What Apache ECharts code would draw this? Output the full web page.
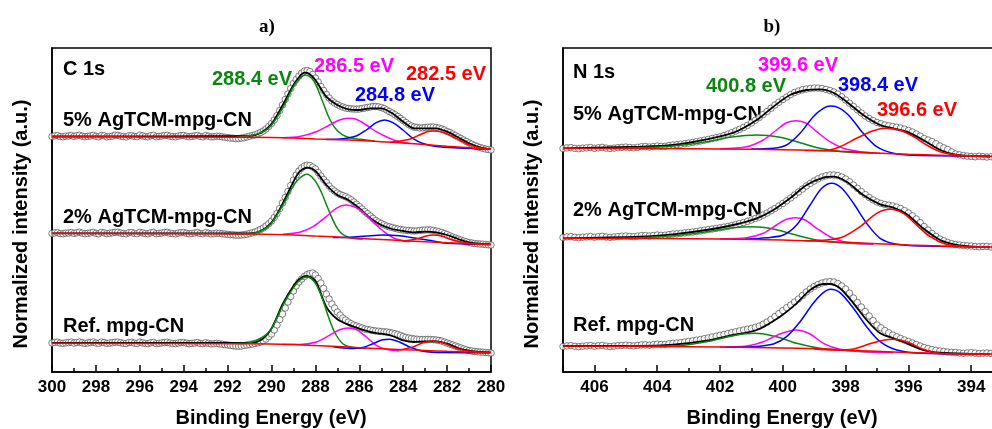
<!DOCTYPE html>
<html>
<head>
<meta charset="utf-8">
<script src="https://cdn.jsdelivr.net/npm/echarts@6/dist/echarts.min.js"></script>
<style>
  html, body { margin: 0; padding: 0; background: #fff; }
  #chart { width: 992px; height: 429px; }
</style>
</head>
<body>
<div id="chart"></div>
<script>
// XPS spectra, panel a) C 1s and panel b) N 1s
// y values are in plot units (0..324), each spectrum already carries its stacking offset

// binding energies of the measured points, one row per eV
const energyA = [
  300, 299.875, 299.75, 299.625, 299.5, 299.375, 299.25, 299.125,
  299, 298.875, 298.75, 298.625, 298.5, 298.375, 298.25, 298.125,
  298, 297.875, 297.75, 297.625, 297.5, 297.375, 297.25, 297.125,
  297, 296.875, 296.75, 296.625, 296.5, 296.375, 296.25, 296.125,
  296, 295.875, 295.75, 295.625, 295.5, 295.375, 295.25, 295.125,
  295, 294.875, 294.75, 294.625, 294.5, 294.375, 294.25, 294.125,
  294, 293.875, 293.75, 293.625, 293.5, 293.375, 293.25, 293.125,
  293, 292.875, 292.75, 292.625, 292.5, 292.375, 292.25, 292.125,
  292, 291.875, 291.75, 291.625, 291.5, 291.375, 291.25, 291.125,
  291, 290.875, 290.75, 290.625, 290.5, 290.375, 290.25, 290.125,
  290, 289.875, 289.75, 289.625, 289.5, 289.375, 289.25, 289.125,
  289, 288.875, 288.75, 288.625, 288.5, 288.375, 288.25, 288.125,
  288, 287.875, 287.75, 287.625, 287.5, 287.375, 287.25, 287.125,
  287, 286.875, 286.75, 286.625, 286.5, 286.375, 286.25, 286.125,
  286, 285.875, 285.75, 285.625, 285.5, 285.375, 285.25, 285.125,
  285, 284.875, 284.75, 284.625, 284.5, 284.375, 284.25, 284.125,
  284, 283.875, 283.75, 283.625, 283.5, 283.375, 283.25, 283.125,
  283, 282.875, 282.75, 282.625, 282.5, 282.375, 282.25, 282.125,
  282, 281.875, 281.75, 281.625, 281.5, 281.375, 281.25, 281.125,
  281, 280.875, 280.75, 280.625, 280.5, 280.375, 280.25, 280.125,
  280
];

const energyB = [
  407, 406.875, 406.75, 406.625, 406.5, 406.375, 406.25, 406.125,
  406, 405.875, 405.75, 405.625, 405.5, 405.375, 405.25, 405.125,
  405, 404.875, 404.75, 404.625, 404.5, 404.375, 404.25, 404.125,
  404, 403.875, 403.75, 403.625, 403.5, 403.375, 403.25, 403.125,
  403, 402.875, 402.75, 402.625, 402.5, 402.375, 402.25, 402.125,
  402, 401.875, 401.75, 401.625, 401.5, 401.375, 401.25, 401.125,
  401, 400.875, 400.75, 400.625, 400.5, 400.375, 400.25, 400.125,
  400, 399.875, 399.75, 399.625, 399.5, 399.375, 399.25, 399.125,
  399, 398.875, 398.75, 398.625, 398.5, 398.375, 398.25, 398.125,
  398, 397.875, 397.75, 397.625, 397.5, 397.375, 397.25, 397.125,
  397, 396.875, 396.75, 396.625, 396.5, 396.375, 396.25, 396.125,
  396, 395.875, 395.75, 395.625, 395.5, 395.375, 395.25, 395.125,
  395, 394.875, 394.75, 394.625, 394.5, 394.375, 394.25, 394.125,
  394, 393.875, 393.75, 393.625, 393.5, 393.375, 393.25, 393.125
];

// ---- panel a: measured points ----
const rawA5 = [
  235.5, 236.2, 236.4, 235.4, 235.2, 235.9, 236, 236.5,
  235.6, 236.3, 236.8, 235.8, 235.3, 235.6, 236.1, 236.6,
  235.7, 235.2, 236.5, 236.2, 235.1, 235.5, 235.9, 236.8,
  236.6, 235.8, 235.4, 235.1, 236.2, 236.4, 235.6, 235.3,
  236.9, 236.1, 235.5, 235.2, 236.3, 236.7, 235.2, 235.6,
  236, 236.5, 236.7, 235.8, 235.4, 235.2, 235.9, 236.4,
  236.5, 235.7, 235.3, 235.6, 236.1, 236.6, 235.6, 235.2,
  236.4, 235.8, 235.1, 235.3, 235.8, 235.6, 235.2, 234.8,
  234.4, 234, 233.8, 233.4, 233.5, 233.9, 234.3, 235,
  235.8, 236.5, 237.2, 238.2, 239.5, 241, 243, 245.5,
  248.5, 252, 256.5, 261.5, 267, 272.5, 278, 283.5,
  288.5, 292.5, 296, 299, 301, 301.5, 300.5, 297.5,
  294, 290, 285.5, 281.5, 277.5, 274, 271, 269,
  267.5, 266, 265, 264, 263.5, 263.2, 263, 262.8,
  263, 263.5, 264, 264.5, 265, 265.5, 265.5, 265.2,
  264.5, 263.5, 262, 260.5, 259, 257.3, 255.5, 253.5,
  251.5, 249.5, 247.5, 246, 245, 244.5, 244, 244.2,
  244.5, 244.8, 245, 245, 244.5, 244, 243, 242,
  240.5, 239.5, 238, 236.5, 235, 233.5, 232, 230.5,
  229, 227.8, 226.5, 225.5, 224.5, 223.7, 223, 222.5,
  222
];
const rawA2 = [
  138.5, 139.1, 139.3, 138.4, 138.2, 138.8, 139, 139.5,
  138.6, 139.2, 139.8, 138.9, 138.3, 138.6, 139.1, 139.6,
  138.7, 138.2, 139.6, 139.1, 138.4, 138.7, 139.2, 139.7,
  139.8, 139, 138.5, 138.2, 139.3, 139.5, 138.6, 138.3,
  139.7, 139.1, 138.4, 138.2, 139.2, 139.6, 138.3, 138.6,
  139, 139.4, 139.6, 138.8, 138.4, 138.2, 138.9, 139.3,
  139.5, 138.7, 138.2, 138.5, 139, 139.4, 138.5, 138.2,
  139.3, 138.7, 138.1, 138.3, 138.8, 138.6, 138.2, 137.9,
  137.6, 137.3, 137.2, 136.9, 136.8, 137, 137.3, 137.8,
  138.5, 139.2, 140, 141.2, 142.5, 144, 146, 148.3,
  151, 154.5, 158.5, 163.5, 169, 174.5, 180.5, 186.5,
  192, 197, 201, 204, 206, 206.8, 206.5, 205,
  203, 199.5, 196, 192.5, 189.5, 186, 183, 181,
  179, 177.5, 176.5, 175.3, 174, 172.2, 170, 167.8,
  165.5, 163, 160.5, 158.3, 156, 153.6, 151.5, 150,
  148.5, 147.2, 146, 145.2, 144.5, 143.7, 143, 142.5,
  142, 141.7, 141.5, 141.2, 141, 141.2, 141.5, 141.8,
  142, 142.2, 142, 141.6, 141, 140.3, 139.5, 138.5,
  137.5, 136.2, 135, 134, 133, 132, 131, 130.2,
  129.5, 129, 128.5, 128.2, 128, 127.8, 127.5, 127.2,
  127
];
const rawARef = [
  29, 29.6, 29.8, 28.9, 28.6, 29.1, 29.4, 29.9,
  28.9, 29.5, 30, 29.2, 28.7, 29, 29.5, 30,
  29, 28.6, 29.9, 29.4, 28.6, 28.9, 29.3, 29.8,
  29.9, 29.2, 28.7, 28.5, 29.5, 29.7, 28.8, 28.5,
  29.8, 29.1, 28.5, 28.3, 29.3, 29.6, 28.4, 28.7,
  29.1, 29.5, 29.7, 29, 28.5, 28.3, 29, 29.4,
  29.5, 28.8, 28.3, 28.6, 29, 29.5, 28.5, 28.3,
  29.2, 28.7, 28.1, 28.3, 28.6, 28.2, 27.8, 27.3,
  27, 26.6, 26.2, 25.9, 25.8, 26, 26.5, 27,
  27.5, 28, 28.5, 29.2, 30, 31.3, 33, 35.3,
  38, 42, 47, 52.5, 58, 64, 70, 75.5,
  81, 86, 90, 93, 95.5, 97.5, 98.5, 99,
  97, 93.5, 89, 83.5, 78, 73, 68, 64,
  60, 57, 54, 52, 50, 48.3, 47, 46,
  45, 44, 43, 42.5, 42, 41.5, 41, 40.8,
  40.5, 40.2, 40, 39.5, 39, 38.3, 37.5, 36.5,
  35.5, 34.7, 34, 33.5, 33, 32.8, 32.5, 32.5,
  32.5, 32.6, 32.5, 32.3, 32, 31.6, 31, 30,
  29, 28, 27, 26, 25, 24, 23, 22.2,
  21.5, 21, 20.5, 20.2, 20, 19.8, 19.5, 19.2,
  19
];

// ---- panel a: fitted curves [eV, y] ----
const envA5 = [[300, 235.5], [291, 236], [290.5, 239], [290, 248], [289.5, 266.5], [289, 287], [288.72, 295.5], [288.5, 299.3], [288.27, 298], [288, 292], [287.5, 275.3], [287, 267], [286.5, 262.7], [286, 262], [285.5, 263.7], [285, 263.7], [284.5, 258.7], [284, 250.3], [283.5, 243.7], [283, 243.7], [282.5, 243.7], [282, 240.3], [281.5, 234.7], [281, 228.7], [280.5, 224.7], [280, 222.7]];
const greenA5 = [[291.6, 234.8], [290.98, 236.2], [290.37, 240.3], [289.99, 247], [289.46, 265.3], [289, 285.3], [288.7, 293.7], [288.47, 297], [288.17, 293.7], [287.94, 285.3], [287.64, 268.7], [287.33, 252], [287, 241.3], [286.58, 235.3], [285.97, 232.7], [285.3, 231]];
const pinkA5 = [[289.5, 234.3], [288.72, 235.5], [287.96, 240.3], [287.36, 247], [286.9, 252], [286.52, 253.7], [286.14, 252.7], [285.68, 247], [285.23, 240.3], [284.62, 233.7], [284.17, 230.3], [283.71, 228.5]];
const blueA5 = [[287.5, 232.5], [286.75, 233.2], [286.14, 236], [285.68, 242], [285.23, 249.3], [284.85, 252], [284.47, 249.3], [284.01, 242], [283.56, 233.7], [283.1, 228.5], [282.5, 225.5], [281.5, 224], [280.07, 222.7]];
const redA5 = [[284.6, 229.6], [284.32, 230.5], [283.71, 232.7], [283.26, 237], [282.95, 240], [282.65, 241], [282.27, 240.3], [281.89, 237], [281.43, 232], [280.98, 227], [280.52, 224.3], [280.07, 222.7]];
const bgA5 = [[300, 235.5], [291, 234.7], [289, 234], [288, 233], [287, 232.3], [286, 231.5], [285, 230.3], [284, 229], [283, 227.5], [282, 225.7], [281, 224.2], [280, 222.7]];

const envA2 = [[300, 138.7], [291, 138.7], [290.5, 141], [290, 149.5], [289.5, 168], [289, 190.3], [288.72, 200.3], [288.34, 204.3], [288, 201], [287.5, 187], [287, 177], [286.5, 172], [286, 163.7], [285.5, 153.7], [285, 147], [284.5, 143], [284, 141], [283.5, 139.7], [283, 140.3], [282.5, 139.7], [282, 137], [281.5, 133], [281, 129.7], [280.5, 128.3], [280, 127.7]];
const greenA2 = [[291.6, 138.1], [291, 138.2], [290.39, 142], [290, 148.7], [289.48, 167], [289.03, 185.3], [288.72, 193.7], [288.39, 197.7], [288.04, 192], [287.74, 180.3], [287.43, 163.7], [287.13, 148.7], [286.82, 138.7], [286.44, 134.3], [285.84, 133]];
const pinkA2 = [[289.48, 137.7], [288.72, 139.7], [288.11, 145.3], [287.51, 155.3], [287.05, 163.7], [286.6, 167], [286.14, 164.3], [285.68, 157], [285.23, 147], [284.77, 138.7], [284.32, 133], [283.71, 130.2]];
const blueA2 = [[287.2, 134.5], [286.44, 134.8], [285.68, 136], [284.93, 137], [284.17, 136.3], [283.41, 133.7], [282.65, 131], [281.89, 128.7], [280.07, 127.6]];
const redA2 = [[284.01, 131], [283.41, 133], [282.95, 136], [282.65, 137], [282.27, 136], [281.89, 133], [281.28, 129.7], [280.67, 128], [280.07, 127.6]];
const bgA2 = [[300, 138.7], [291, 138], [289, 137], [288, 136], [287, 135], [286, 133.7], [285, 132.5], [284, 131.3], [283, 130.2], [282, 129.2], [281, 128.3], [280, 127.5]];

const envARef = [[300, 29], [291, 29.3], [290.5, 31.7], [290, 43.5], [289.5, 67.5], [289, 86], [288.72, 93], [288.42, 96], [288, 91], [287.5, 65], [287, 52.7], [286.5, 47.3], [286, 43.3], [285.5, 40], [285, 38.3], [284.5, 36], [284, 31.7], [283.5, 30], [283, 30.7], [282.5, 30.7], [282, 28.3], [281.5, 24], [281, 21.3], [280.5, 20], [280, 19.7]];
const greenARef = [[291.6, 28.4], [291, 29.3], [290.39, 35], [290, 43.3], [289.48, 66.7], [289.03, 83.3], [288.72, 91.7], [288.39, 95], [288.04, 90], [287.74, 76.7], [287.43, 56.7], [287.13, 40], [286.75, 28.3], [286.29, 24.5], [285.68, 23.5]];
const pinkARef = [[289.5, 27.6], [288.72, 27.5], [287.96, 30], [287.36, 36.7], [286.9, 42.3], [286.52, 44], [286.14, 42.3], [285.68, 35], [285.23, 26.7], [284.77, 22.7], [284.17, 21]];
const blueARef = [[287.2, 25.2], [286.44, 23.5], [285.84, 24.5], [285.38, 28.3], [284.93, 32.3], [284.62, 32.7], [284.17, 30], [283.71, 25], [283.1, 20.8], [282.19, 19.5], [280.07, 19.3]];
const redARef = [[284.17, 22], [283.56, 25], [283.1, 29.3], [282.65, 31], [282.19, 29.3], [281.74, 25], [281.28, 21.7], [280.67, 20], [280.07, 19.3]];
const bgARef = [[300, 28.7], [291, 28.3], [289, 27.5], [288, 26.5], [287, 25.5], [286, 24.3], [285, 23.3], [284, 22.3], [283, 21.5], [282, 20.7], [281, 20], [280, 19.3]];

// ---- panel b: measured points ----
const rawB5 = [
  223.5, 224.1, 224.4, 223.6, 223.3, 223.8, 224.1, 224.5,
  223.7, 224.2, 224.6, 223.9, 223.5, 223.9, 224.3, 224.6,
  224.9, 224.5, 224.2, 224.7, 225.3, 225.5, 225, 225.4,
  226, 225.6, 225.8, 226.5, 227, 227.3, 227.8, 228.3,
  228.9, 229.5, 230.2, 231, 231.8, 232.6, 233.5, 234.3,
  235.2, 236.4, 237.8, 239.3, 241, 242.7, 244.5, 246.7,
  249, 251.7, 254.5, 257.5, 260.5, 263.8, 267, 269.8,
  272.5, 275, 277.5, 279.5, 281, 282.2, 283, 283.6,
  284, 283.9, 283.5, 282.6, 281.5, 280, 278, 275.2,
  272, 268.8, 265.5, 262.2, 259, 256, 253.5, 251.4,
  249.5, 248.2, 247, 246.2, 245.5, 244.8, 244, 242.9,
  241.5, 240, 238, 235.9, 233.5, 232, 230.5, 228.3,
  226, 224.2, 222.5, 220.1, 218, 217.2, 216.5, 215.9,
  215.5, 215.2, 215.8, 215.4, 215, 215.3, 215.5, 215.1
];
const rawB2 = [
  134.5, 135.1, 135.4, 134.7, 134.3, 134.8, 135.1, 135.5,
  134.8, 135.3, 135.7, 135, 134.6, 135, 135.4, 135.8,
  136, 135.6, 135.3, 135.9, 136.4, 136.5, 136, 136.5,
  137, 136.7, 136.8, 137.4, 138, 138.2, 138.6, 139.1,
  139.6, 140, 140.5, 141.1, 141.8, 142.4, 143, 143.6,
  144.2, 144.9, 145.6, 146.5, 147.5, 148.5, 149.5, 150.7,
  152, 153.5, 155, 157, 159, 161.2, 163.5, 166,
  168.5, 171.2, 174, 177, 180, 183, 186, 188.6,
  191, 193.2, 195, 196.2, 197, 197, 196.5, 195,
  193, 190.2, 187, 183.7, 180.5, 177.4, 174.5, 172.1,
  170, 168.6, 167.5, 166.8, 166, 164.9, 163.5, 161.4,
  159, 156.2, 153, 149.4, 145.5, 142, 138.5, 135.6,
  133, 131.2, 129.5, 128.4, 127.5, 127, 126.5, 126.2,
  126, 125.5, 125.2, 125.6, 125.6, 125.1, 124.8, 125
];
const rawBRef = [
  25.5, 26.1, 26.4, 25.7, 25.3, 25.8, 26.2, 26.5,
  25.7, 26.2, 26.6, 25.9, 25.4, 25.9, 26.3, 26.6,
  26.8, 26.4, 26.1, 26.6, 27.1, 27.2, 26.8, 27.3,
  27.8, 27.5, 27.6, 28.2, 28.7, 29, 29.4, 30,
  30.6, 31.2, 31.8, 32.5, 33.3, 34.1, 35, 35.8,
  36.7, 37.6, 38.5, 39.4, 40.2, 41.1, 42, 42.8,
  43.6, 44.7, 46, 47.8, 50, 52.6, 55.5, 58.5,
  61.5, 64.3, 67, 70, 73, 76.5, 80, 83,
  85.5, 87.5, 89, 90, 90.5, 90, 88.5, 86,
  83, 78.8, 74, 69.5, 65, 60.5, 56, 51.5,
  47, 44.2, 41.5, 39.2, 37, 35.2, 33.5, 32,
  30.5, 29, 27.5, 26, 24.5, 23.5, 22.5, 21.7,
  21, 20.5, 20, 19.7, 19.5, 19.1, 18.8, 19,
  19.3, 18.9, 18.5, 18.8, 19, 18.6, 18.3, 18.7
];

// ---- panel b: fitted curves [eV, y] ----
const envB5 = [[407, 223.7], [404.55, 225.3], [403.49, 227], [402.43, 232.7], [401.57, 239.3], [400.83, 252], [400.3, 265.3], [399.77, 277], [399.24, 282], [398.82, 282.7], [398.39, 279.3], [397.97, 270.3], [397.44, 257], [396.9, 247], [396.48, 243.7], [396.05, 240.3], [395.53, 232], [394.99, 222], [394.46, 217], [393.93, 216], [393.4, 215.3]];
const greenB5 = [[405.5, 223.6], [404.55, 224.3], [403.49, 226], [402.43, 230.3], [401.68, 234.7], [400.83, 237], [400.09, 234.7], [399.45, 229.3], [398.82, 223.7], [398.18, 220.6], [397.12, 218.8]];
const pinkB5 = [[402, 223.2], [401.15, 225.3], [400.62, 232], [400.2, 242], [399.88, 249.3], [399.56, 251.3], [399.24, 248.7], [398.92, 240.3], [398.5, 230.3], [398.07, 223.7], [397.54, 220.3], [396.9, 218.7]];
const blueB5 = [[401, 223], [400.3, 223.7], [399.88, 227], [399.45, 238.7], [399.03, 255.3], [398.71, 263.7], [398.48, 266], [398.18, 263.7], [397.86, 255.3], [397.44, 238.7], [397.01, 225.3], [396.48, 218.7], [395.84, 216.7], [393.4, 216]];
const redB5 = [[399.3, 221.5], [398.6, 221.8], [398.18, 225.3], [397.65, 233.7], [397.12, 241.3], [396.69, 243.7], [396.27, 242], [395.84, 235.3], [395.42, 227], [394.99, 220.3], [394.46, 217], [393.93, 216], [393.4, 215.3]];
const bgB5 = [[407, 223.7], [404, 223.4], [402, 223], [400, 222.3], [399, 221.5], [398, 220.5], [397, 219], [396, 217.8], [395, 216.8], [394, 216], [393, 215.5]];

const envB2 = [[407, 133.7], [404.55, 135.3], [403.49, 137.7], [402.43, 142], [401.58, 147], [400.83, 153.7], [400.3, 162], [399.77, 173.7], [399.24, 187], [398.71, 194.3], [398.39, 195.3], [397.97, 190.3], [397.44, 177], [396.9, 167.7], [396.48, 164.3], [396.05, 157.7], [395.53, 143.7], [394.99, 132], [394.46, 127], [393.93, 125.3], [393.4, 124.7]];
const greenB2 = [[405.5, 133.6], [404.55, 134.3], [403.49, 136.3], [402.43, 140.3], [401.58, 144.3], [400.94, 145.3], [400.3, 143], [399.67, 137.7], [398.92, 132], [398.18, 129.3], [397.12, 127.9]];
const pinkB2 = [[402, 133.2], [401.15, 134.3], [400.62, 138.7], [400.2, 147], [399.88, 152.7], [399.61, 154.3], [399.29, 152], [398.92, 143.7], [398.5, 135.3], [397.97, 129.7], [397.12, 127.9]];
const blueB2 = [[401.2, 132.8], [400.51, 134.3], [399.98, 137], [399.56, 147], [399.13, 167], [398.76, 183.7], [398.44, 188.7], [398.12, 183.7], [397.75, 168.7], [397.33, 148.7], [396.9, 133.7], [396.37, 127.7], [395.53, 126], [393.4, 125.3]];
const redB2 = [[399.3, 131.2], [398.6, 132], [398.07, 135.3], [397.54, 145.3], [397.01, 158.7], [396.59, 162.7], [396.16, 158.7], [395.74, 147], [395.31, 135.3], [394.78, 127.7], [394.14, 125.3], [393.4, 124.7]];
const bgB2 = [[407, 133.7], [404, 133.5], [402, 133], [400, 132], [399, 131], [398, 129.7], [397, 128.3], [396, 127], [395, 126], [394, 125.3], [393, 124.8]];

const envBRef = [[407, 26], [404.55, 26], [403.49, 27.3], [402.43, 31.3], [401.58, 37], [400.83, 42], [400.09, 55.3], [399.56, 68.7], [399.13, 82], [398.71, 88], [398.5, 88], [398.18, 83.7], [397.75, 68.7], [397.33, 52], [396.9, 38.7], [396.48, 33.7], [396.05, 28.7], [395.53, 22], [394.99, 19.3], [394, 18.2], [393.4, 18]];
const greenBRef = [[405, 25.7], [403.49, 26], [402.43, 30.3], [401.58, 36.3], [400.89, 38.7], [400.2, 35.3], [399.56, 28.7], [398.82, 23.7], [397.97, 21.3], [396.9, 19.6]];
const pinkBRef = [[402, 25], [401.15, 26], [400.62, 30.3], [400.09, 38], [399.58, 42], [399.13, 38], [398.71, 28.7], [398.18, 22.7], [397.33, 20.3], [396.48, 19.4]];
const blueBRef = [[401.8, 24.8], [400.94, 25.3], [400.3, 28], [399.88, 35.3], [399.45, 50.3], [399.03, 68.7], [398.71, 79.3], [398.48, 82.7], [398.18, 79.3], [397.75, 63.7], [397.33, 45.3], [396.9, 30.3], [396.37, 22], [395.53, 18.7], [393.4, 18]];
const redBRef = [[399, 23], [398.39, 22], [397.75, 23], [397.12, 29.3], [396.53, 32.7], [396.05, 30.3], [395.53, 22.7], [394.99, 18.7], [393.4, 17.7]];
const bgBRef = [[407, 26], [404, 25.6], [402, 25], [400, 24], [399, 23.2], [398, 22], [397, 20.7], [396, 19.5], [395, 18.6], [394, 18.1], [393, 17.8]];

const GREEN = '#0a870f', PINK = '#ff00ff', BLUE = '#0000ff', RED = '#ff0000';
const SANS = '"Liberation Sans", Arial, sans-serif';
const SERIF = '"Liberation Serif", "Times New Roman", serif';

const panels = [
  { grid: 0, energy: energyA, spectra: [
    { raw: rawA5, env: envA5, peaks: [greenA5, pinkA5, blueA5, redA5], bg: bgA5 },
    { raw: rawA2, env: envA2, peaks: [greenA2, pinkA2, blueA2, redA2], bg: bgA2 },
    { raw: rawARef, env: envARef, peaks: [greenARef, pinkARef, blueARef, redARef], bg: bgARef }
  ]},
  { grid: 1, energy: energyB, spectra: [
    { raw: rawB5, env: envB5, peaks: [greenB5, pinkB5, blueB5, redB5], bg: bgB5 },
    { raw: rawB2, env: envB2, peaks: [greenB2, pinkB2, blueB2, redB2], bg: bgB2 },
    { raw: rawBRef, env: envBRef, peaks: [greenBRef, pinkBRef, blueBRef, redBRef], bg: bgBRef }
  ]}
];

function curve(grid, data, color, width) {
  return {
    type: 'line', xAxisIndex: grid, yAxisIndex: grid, data,
    symbol: 'none', smooth: 0.3, silent: true,
    lineStyle: { color, width }
  };
}

const series = [];
panels.forEach(p => {
  // open circles first, fits drawn on top
  p.spectra.forEach(s => {
    series.push({
      type: 'scatter', xAxisIndex: p.grid, yAxisIndex: p.grid, silent: true,
      data: p.energy.map((e, i) => [e, s.raw[i]]),
      symbol: 'circle', symbolSize: 6.5,
      itemStyle: { color: '#fff', borderColor: '#4d4d4d', borderWidth: 0.9 }
    });
  });
  p.spectra.forEach(s => {
    series.push(curve(p.grid, s.env, '#000', 1.8));
    [GREEN, PINK, BLUE, RED].forEach((c, k) => series.push(curve(p.grid, s.peaks[k], c, 1.5)));
    series.push(curve(p.grid, s.bg, RED, 1.5));
  });
});

function xAxis(grid, min, max) {
  return {
    type: 'value', gridIndex: grid, min, max, interval: 2, inverse: true,
    axisLine: { show: true, onZero: false, lineStyle: { color: '#000', width: 1.5 } },
    axisTick: { show: true, inside: true, length: 7, lineStyle: { color: '#000', width: 1.5 } },
    minorTick: { show: true, splitNumber: 2, length: 4, lineStyle: { color: '#000', width: 1.5 } },
    splitLine: { show: false },
    axisLabel: {
      color: '#000', fontSize: 17, fontWeight: 'bold', fontFamily: SANS, margin: 7,
      formatter: v => (v % 2 === 0 ? String(v) : '')
    }
  };
}
function yAxis(grid) {
  return {
    type: 'value', gridIndex: grid, min: 0, max: 324,
    axisLine: { show: true, lineStyle: { color: '#000', width: 1.5 } },
    axisTick: { show: false }, axisLabel: { show: false }, splitLine: { show: false }
  };
}

function txt(x, y, text, color, align, opts) {
  const o = opts || {};
  return {
    type: 'text', x, y, rotation: o.rotation || 0, silent: true,
    style: { text, fill: color, align, verticalAlign: 'middle',
      fontSize: o.size || 20, fontWeight: 'bold', fontFamily: o.family || SANS }
  };
}

const graphics = [
  txt(267, 27, 'a)', '#000', 'center', { family: SERIF, size: 19 }),
  txt(772, 27, 'b)', '#000', 'center', { family: SERIF, size: 19 }),
  txt(63, 69, 'C 1s', '#000', 'left'),
  txt(252, 79, '288.4 eV', GREEN, 'center'),
  txt(354, 66, '286.5 eV', PINK, 'center'),
  txt(446, 74, '282.5 eV', RED, 'center'),
  txt(395, 95, '284.8 eV', BLUE, 'center'),
  txt(63, 120, '5% AgTCM-mpg-CN', '#000', 'left'),
  txt(63, 217, '2% AgTCM-mpg-CN', '#000', 'left'),
  txt(63, 326, 'Ref. mpg-CN', '#000', 'left'),
  txt(573, 72, 'N 1s', '#000', 'left'),
  txt(746, 86, '400.8 eV', GREEN, 'center'),
  txt(798, 65, '399.6 eV', PINK, 'center'),
  txt(878, 85, '398.4 eV', BLUE, 'center'),
  txt(917, 110, '396.6 eV', RED, 'center'),
  txt(573, 114, '5% AgTCM-mpg-CN', '#000', 'left'),
  txt(573, 210, '2% AgTCM-mpg-CN', '#000', 'left'),
  txt(573, 325, 'Ref. mpg-CN', '#000', 'left'),
  txt(271, 418, 'Binding Energy (eV)', '#000', 'center'),
  txt(782, 418, 'Binding Energy (eV)', '#000', 'center'),
  txt(21, 224, 'Normalized intensity (a.u.)', '#000', 'center', { rotation: Math.PI / 2 }),
  txt(532, 224, 'Normalized intensity (a.u.)', '#000', 'center', { rotation: Math.PI / 2 })
];

const chart = echarts.init(document.getElementById('chart'));
chart.setOption({
  animation: false,
  backgroundColor: '#fff',
  grid: [
    { left: 52, top: 48, width: 439, height: 324, show: true, borderColor: '#000', borderWidth: 1.5,
      backgroundColor: 'transparent', containLabel: false, outerBoundsMode: 'none' },
    { left: 563, top: 48, width: 471, height: 324, show: true, borderColor: '#000', borderWidth: 1.5,
      backgroundColor: 'transparent', containLabel: false, outerBoundsMode: 'none' }
  ],
  xAxis: [xAxis(0, 280, 300), xAxis(1, 392, 407)],
  yAxis: [yAxis(0), yAxis(1)],
  series,
  graphic: graphics
});
</script>
</body>
</html>
